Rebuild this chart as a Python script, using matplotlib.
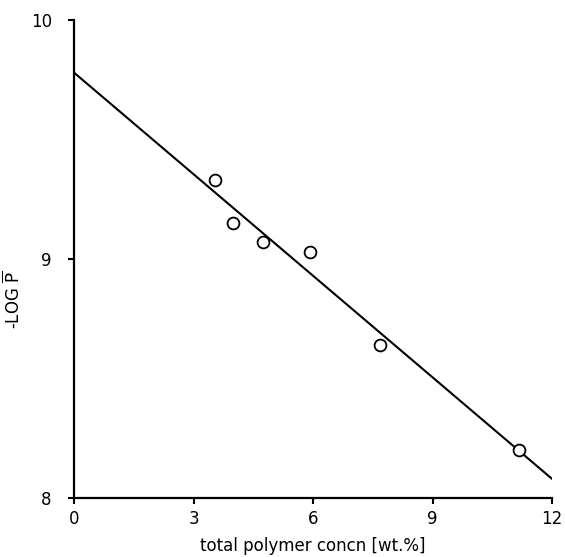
import matplotlib.pyplot as plt

# measured points
conc = [3.55, 3.98, 4.75, 5.92, 7.68, 11.18]
neg_log_p = [9.33, 9.15, 9.07, 9.03, 8.64, 8.20]

# fitted line end points
fit_x = [0, 12]
fit_y = [9.78, 8.08]

xticks = [0, 3, 6, 9, 12]
yticks = [8, 9, 10]

plt.rcParams['font.family'] = ['DejaVu Sans']

fig = plt.figure(figsize=(5.65, 5.57), dpi=100)
ax = fig.add_axes([0.131, 0.106, 0.846, 0.858])

ax.plot(fit_x, fit_y, color='black', linewidth=1.5, zorder=2)
ax.plot(conc, neg_log_p, linestyle='none', marker='o', markersize=8.5,
        markerfacecolor='white', markeredgecolor='black', markeredgewidth=1.3, zorder=3)

ax.set_xlim(0, 12)
ax.set_ylim(8, 10)
ax.set_xticks(xticks)
ax.set_yticks(yticks)
ax.tick_params(direction='out', length=4, width=1.5, labelsize=12)
ax.tick_params(axis='y', pad=12)
ax.tick_params(axis='x', pad=5)

for side in ['top', 'right']:
    ax.spines[side].set_visible(False)
for side in ['left', 'bottom']:
    ax.spines[side].set_linewidth(1.6)

ax.set_xlabel('total polymer concn [wt.%]', fontsize=12, labelpad=6)
ax.set_ylabel(r'-LOG $\overline{\mathrm{P}}$', fontsize=12)
ax.yaxis.set_label_coords(-0.105, 0.414)

fig.savefig('out.png', dpi=100)
